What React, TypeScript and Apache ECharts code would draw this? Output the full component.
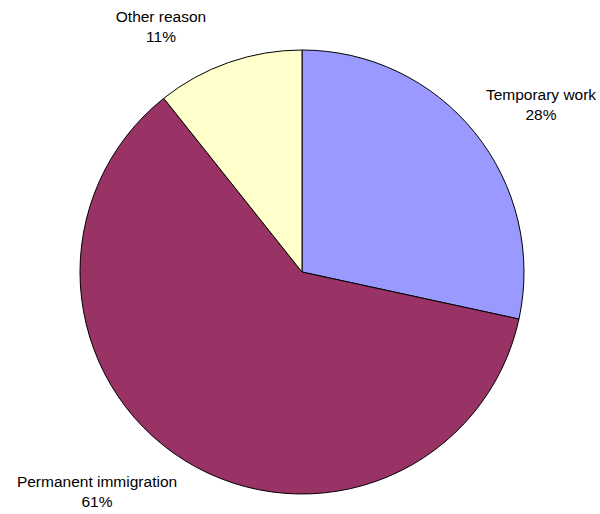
import React, { useEffect, useRef } from "react";
import * as echarts from "echarts";

const categories = ["Temporary work", "Permanent immigration", "Other reason"];
const values = [28.4, 60.9, 10.7];
const colors = ["#9999FF", "#993366", "#FFFFCC"];
const labelSpots = [
  [541, 104],
  [97, 491],
  [161, 26],
];

export default function App() {
  const ref = useRef<HTMLDivElement>(null);
  useEffect(() => {
    document.body.style.margin = "0";
    const chart = echarts.init(ref.current!, null, { renderer: "svg" });
    chart.setOption({
      animation: false,
      backgroundColor: "#ffffff",
      series: [
        {
          type: "pie",
          center: [302, 272],
          radius: [0, 222],
          startAngle: 90,
          clockwise: true,
          data: categories.map((c, i) => ({
            name: c,
            value: values[i],
            itemStyle: { color: colors[i] },
          })),
          itemStyle: { borderColor: "#000", borderWidth: 1 },
          label: {
            show: true,
            position: "outside",
            formatter: (p: any) => `${p.name}\n${Math.round(p.value)}%`,
            color: "#000",
            fontFamily: "Liberation Sans, Arial, sans-serif",
            fontSize: 15.5,
            lineHeight: 20,
            align: "center",
            overflow: "none",
            width: 300,
          },
          labelLine: { show: false },
          labelLayout: (p: any) => ({
            x: labelSpots[p.dataIndex][0],
            y: labelSpots[p.dataIndex][1],
            align: "center",
            verticalAlign: "middle",
          }),
          emphasis: { disabled: true },
        },
      ],
    });
    return () => chart.dispose();
  }, []);
  return <div ref={ref} style={{ width: 600, height: 514 }} />;
}
